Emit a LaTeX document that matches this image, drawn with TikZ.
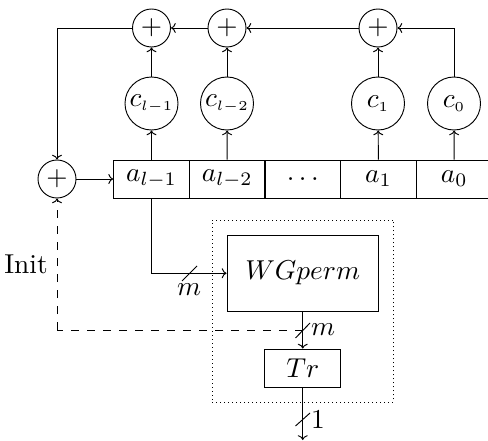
\documentclass[tikz,border=0pt]{standalone}
\usetikzlibrary{arrows.meta}
\newcommand{\BigT}[1]{\scalebox{2.05}{#1}}
\begin{document}
\begin{tikzpicture}[x=0.75pt,y=-0.75pt,line width=0.7pt,
  tipto/.tip={To[length=3.6pt,width=7.5pt]},
  link/.style={draw,-tipto},
  xorc/.style={draw,circle,inner sep=0pt,minimum size=28.5pt},
  coef/.style={draw,circle,inner sep=0pt,minimum size=39.75pt},
  cell/.style={draw,rectangle,inner sep=0pt,minimum width=56.8pt,minimum height=28.5pt},
  lab/.style={inner sep=0pt},
  dash6/.style={dash pattern=on 6pt off 6pt},
  slash/.style={draw}]
\clip (0,0) rectangle (488,441);
% nodes
\node[draw,dash pattern=on 0.8pt off 2.2pt,rectangle,inner sep=0pt,minimum width=136.1pt,minimum height=136.5pt] (dot) at (302.75,311) {};
\node[xorc] (x1) at (151.5,28) {\BigT{$+$}};
\node[xorc] (x2) at (227,28) {\BigT{$+$}};
\node[xorc] (x3) at (378,28) {\BigT{$+$}};
\node[xorc] (x0) at (57,179) {\BigT{$+$}};
\node[coef] (c3) at (151.5,103.5) {\BigT{$c_{\scriptscriptstyle l-1}$}};
\node[coef] (c2) at (227,103.5) {\BigT{$c_{\scriptscriptstyle l-2}$}};
\node[coef] (c1) at (378,103.5) {\BigT{$c_{\scriptscriptstyle 1}$}};
\node[coef] (c0) at (454,103.5) {\BigT{$c_{\scriptscriptstyle 0}$}};
\node[cell] (a3) at (151.5,179) {\BigT{$a_{l-1}$}};
\node[cell] (a2) at (227.25,179) {\BigT{$a_{l-2}$}};
\node[cell] (ad) at (302.75,179) {\BigT{$\dots$}};
\node[cell] (a1) at (378.5,179) {\BigT{$a_1$}};
\node[cell] (a0) at (454.25,179) {\BigT{$a_0$}};
\node[draw,rectangle,inner sep=0pt,minimum width=113.6pt,minimum height=56.6pt] (wg) at (302.75,273.25) {\BigT{$WGperm$}};
\node[cell] (tr) at (302.75,368) {\BigT{$Tr$}};
\node[lab] (init) at (26,264) {\BigT{Init}};
\node[lab] (m1) at (189,290) {\BigT{$m$}};
\node[lab] (m2) at (323,330) {\BigT{$m$}};
\node[lab] (one) at (318,420) {\BigT{$1$}};
% helper coordinates
\coordinate (end) at (302.75,440);
\coordinate (join) at (302.75,330);
\coordinate (corner) at (57,330);
\coordinate (s1a) at (182,281);
\coordinate (s1b) at (197,266);
\coordinate (s2a) at (295.5,338);
\coordinate (s2b) at (310,323);
\coordinate (s3a) at (295.5,426);
\coordinate (s3b) at (310,413);
% connectors
\draw[link] (a3) -- (c3);
\draw[link] (a2) -- (c2);
\draw[link] (a1) -- (c1);
\draw[link] (a0) -- (c0);
\draw[link] (c3) -- (x1);
\draw[link] (c2) -- (x2);
\draw[link] (c1) -- (x3);
\draw[link] (c0) |- (x3);
\draw[link] (x3) -- (x2);
\draw[link] (x2) -- (x1);
\draw[link] (x1) -| (x0);
\draw[link] (x0) -- (a3);
\draw[link] (a3) |- (wg);
\draw[link] (wg) -- (tr);
\draw[link] (tr) -- (end);
\draw[dash6] (join) -- (corner);
\draw[dash6,-tipto] (corner) -- (x0);
\draw[slash] (s1a) -- (s1b);
\draw[slash] (s2a) -- (s2b);
\draw[slash] (s3a) -- (s3b);
\end{tikzpicture}
\end{document}
